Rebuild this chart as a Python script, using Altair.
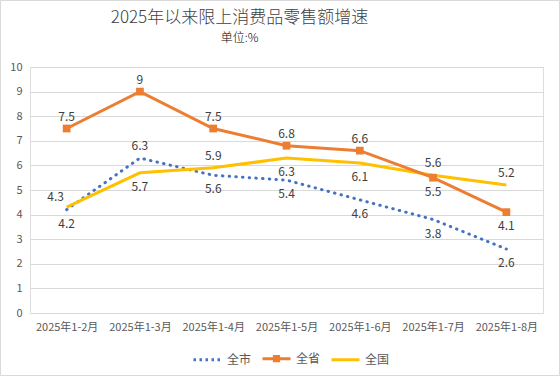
import altair as alt
import pandas as pd

months = ["2025年1-2月", "2025年1-3月", "2025年1-4月", "2025年1-5月",
          "2025年1-6月", "2025年1-7月", "2025年1-8月"]
series_names = ["全市", "全省", "全国"]
city = [4.2, 6.3, 5.6, 5.4, 4.6, 3.8, 2.6]
prov = [7.5, 9.0, 7.5, 6.8, 6.6, 5.5, 4.1]
nation = [4.3, 5.7, 5.9, 6.3, 6.1, 5.6, 5.2]
# label placement relative to the point
city_pos = ["below", "above", "below", "below", "below", "below", "below"]
prov_pos = ["above", "above", "above", "above", "above", "below", "below"]
nation_pos = ["left", "below", "above", "below", "below", "above", "above"]

colors = ["#4472C4", "#ED7D31", "#FFC000"]
FONT = "Noto Sans CJK SC"

rows = []
for name, vals, pos in zip(series_names, [city, prov, nation], [city_pos, prov_pos, nation_pos]):
    for m, v, p in zip(months, vals, pos):
        rows.append({"month": m, "value": v, "series": name, "pos": p,
                     "label": (f"{v:g}")})
df = pd.DataFrame(rows)

base = alt.Chart(df).encode(
    x=alt.X("month:N", sort=months, title=None,
            axis=alt.Axis(labelAngle=0, domain=False, ticks=False, grid=False,
                          labelFont=FONT, labelFontSize=11, labelColor="#595959",
                          labelPadding=8)),
    y=alt.Y("value:Q", title=None,
            scale=alt.Scale(domain=[0, 10], nice=False),
            axis=alt.Axis(values=list(range(0, 11)), domain=False, ticks=False,
                          gridColor="#d9d9d9", gridWidth=1,
                          labelFont=FONT, labelFontSize=11, labelColor="#595959",
                          labelPadding=8)),
)

line_city = base.transform_filter(alt.datum.series == "全市").mark_line(
    color=colors[0], strokeWidth=3, strokeDash=[0.5, 6.2], strokeCap="round")
line_nation = base.transform_filter(alt.datum.series == "全国").mark_line(
    color=colors[2], strokeWidth=3)
line_prov = base.transform_filter(alt.datum.series == "全省").mark_line(
    color=colors[1], strokeWidth=3)
pts_prov = base.transform_filter(alt.datum.series == "全省").mark_point(
    shape="square", filled=True, size=60, color=colors[1], opacity=1)

txt_above = base.transform_filter(alt.datum.pos == "above").mark_text(
    dy=-12, font=FONT, fontSize=12, color="#404040").encode(text="label:N")
txt_below = base.transform_filter(alt.datum.pos == "below").mark_text(
    dy=14, font=FONT, fontSize=12, color="#404040").encode(text="label:N")
txt_left = base.transform_filter(alt.datum.pos == "left").mark_text(
    dx=-11, dy=-10, font=FONT, fontSize=12, color="#404040").encode(text="label:N")

legend = alt.Legend(orient="none", legendX=162, legendY=276, direction="horizontal",
                    title=None, symbolSize=784, symbolStrokeWidth=3,
                    labelFont=FONT, labelFontSize=12, labelColor="#595959",
                    labelOffset=4, columnPadding=4)
dummy = base.transform_filter("false").mark_point(filled=True, opacity=1).encode(
    fill=alt.Fill("series:N", scale=alt.Scale(domain=series_names, range=colors), legend=legend),
    stroke=alt.Stroke("series:N", scale=alt.Scale(domain=series_names, range=colors), legend=legend),
    strokeDash=alt.StrokeDash("series:N", scale=alt.Scale(domain=series_names,
                              range=[[2.5, 3.5], [1, 0], [1, 0]]), legend=legend),
    shape=alt.Shape("series:N", scale=alt.Scale(domain=series_names,
                    range=["M-1,0H1", "M-1,0H1M-0.15,-0.15H0.15V0.15H-0.15Z", "M-1,0H1"]),
                    legend=legend),
)

border = alt.Chart(pd.DataFrame({"a": [0]})).mark_rect(
    fill="white", fillOpacity=0, stroke="#d9d9d9", strokeWidth=1, clip=False).encode(
    x=alt.value(-29.5), x2=alt.value(529.5), y=alt.value(-66.5), y2=alt.value(308.5))

chart = alt.layer(
    border, line_city, line_nation, line_prov, pts_prov, txt_above, txt_below, txt_left, dummy
).properties(
    width=513, height=246,
    padding={"left": 30, "top": 67, "right": 17, "bottom": 63},
    autosize=alt.AutoSizeParams(type="none"),
    title=alt.TitleParams(
        "2025年以来限上消费品零售额增速", subtitle="单位:%",
        anchor="middle", dx=-47, offset=-45,
        font=FONT, fontSize=17, fontWeight=300, color="#404040",
        subtitleFont=FONT, subtitleFontSize=12, subtitleFontWeight=300,
        subtitleColor="#000000", subtitlePadding=6),
).configure_view(stroke=None).configure(background="white")

chart.save("out.html", embed_options={"renderer": "svg", "actions": False})
